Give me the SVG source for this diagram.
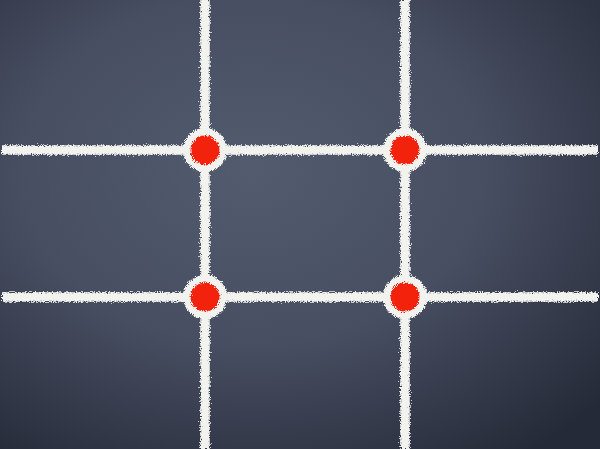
<svg xmlns="http://www.w3.org/2000/svg" width="600" height="449" viewBox="0 0 600 449">
  <defs>
    <radialGradient id="board" cx="0.42" cy="0.38" r="0.78">
      <stop offset="0" stop-color="#535b6f"/>
      <stop offset="0.5" stop-color="#474e61"/>
      <stop offset="1" stop-color="#252a38"/>
    </radialGradient>
    <filter id="chalk" x="-5%" y="-5%" width="110%" height="110%">
      <feTurbulence type="fractalNoise" baseFrequency="0.8" numOctaves="2" seed="3" result="n"/>
      <feDisplacementMap in="SourceGraphic" in2="n" scale="6" xChannelSelector="R" yChannelSelector="G"/>
    </filter>
    <filter id="dust" x="-30%" y="-30%" width="160%" height="160%">
      <feTurbulence type="fractalNoise" baseFrequency="1.1" numOctaves="2" seed="7" result="n"/>
      <feDisplacementMap in="SourceGraphic" in2="n" scale="6" xChannelSelector="R" yChannelSelector="G"/>
    </filter>
    <style>
      .line { stroke: #f2f2ef; stroke-width: 9.5; fill: none; }
      .halo { fill: #f2f2ef; }
      .dot { fill: #f2220f; }
    </style>
  </defs>
  <rect x="0" y="0" width="600" height="449" fill="url(#board)"/>
  <g id="connectors" filter="url(#chalk)">
    <line class="line" x1="205" y1="0" x2="205" y2="449"/>
    <line class="line" x1="405" y1="0" x2="405" y2="449"/>
    <line class="line" x1="2" y1="150" x2="598" y2="150"/>
    <line class="line" x1="2" y1="297" x2="598" y2="297"/>
  </g>
  <g id="node-top-left" filter="url(#dust)">
    <circle class="halo" cx="205" cy="150" r="22"/>
    <circle class="dot" cx="205" cy="150" r="14.5"/>
  </g>
  <g id="node-top-right" filter="url(#dust)">
    <circle class="halo" cx="405" cy="150" r="22"/>
    <circle class="dot" cx="405" cy="150" r="14.5"/>
  </g>
  <g id="node-bottom-left" filter="url(#dust)">
    <circle class="halo" cx="205" cy="297" r="22"/>
    <circle class="dot" cx="205" cy="297" r="14.5"/>
  </g>
  <g id="node-bottom-right" filter="url(#dust)">
    <circle class="halo" cx="405" cy="297" r="22"/>
    <circle class="dot" cx="405" cy="297" r="14.5"/>
  </g>
</svg>
